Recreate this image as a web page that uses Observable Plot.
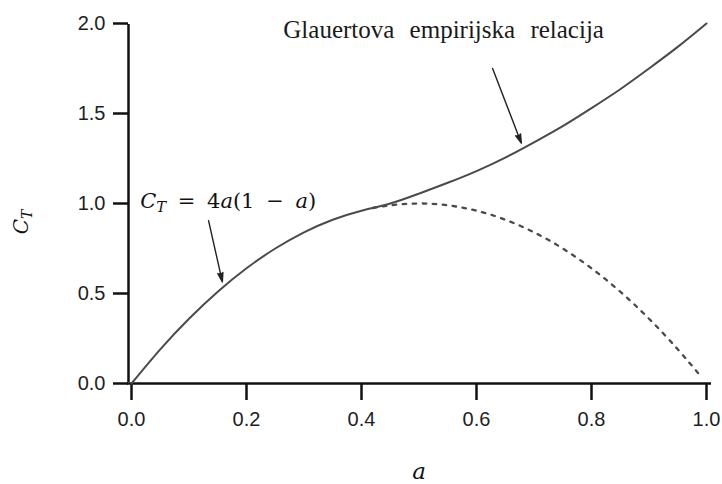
<!DOCTYPE html>
<html>
<head>
<meta charset="utf-8">
<script src="https://cdn.jsdelivr.net/npm/d3@7"></script>
<script src="https://cdn.jsdelivr.net/npm/@observablehq/plot@0.6"></script>
<style>
  html, body { margin: 0; padding: 0; background: #fff; }
  #chart svg { display: block; }
</style>
</head>
<body>
<div id="chart"></div>
<script>
// ---- data ----
// solid curve: momentum theory up to a≈0.4, then Glauert's empirical relation
const aSolid  = [0, 0.05, 0.10, 0.15, 0.20, 0.25, 0.30, 0.35, 0.40, 0.45, 0.50, 0.55, 0.60, 0.65, 0.70, 0.75, 0.80, 0.85, 0.90, 0.95, 1.00];
const ctSolid = [0, 0.19, 0.36, 0.51, 0.64, 0.75, 0.84, 0.91, 0.96, 1.00, 1.055, 1.115, 1.18, 1.255, 1.34, 1.43, 1.53, 1.635, 1.75, 1.87, 2.00];
// dotted curve: CT = 4a(1-a) continued beyond a≈0.4
const aDotted  = [0.42, 0.45, 0.50, 0.55, 0.60, 0.65, 0.70, 0.75, 0.80, 0.85, 0.90, 0.95, 0.99];
const ctDotted = [0.975, 0.99, 1.00, 0.99, 0.96, 0.91, 0.84, 0.75, 0.64, 0.51, 0.36, 0.19, 0.04];

const xTicks = [0, 0.2, 0.4, 0.6, 0.8, 1.0];
const yTicks = [0, 0.5, 1.0, 1.5, 2.0];

const xLabel = "a";
const glauertLabel = "Glauertova empirijska relacija";
const formulaParts = [["C", "i"], ["T", "sub"], [" = 4", ""], ["a", "i"], ["(1 − ", ""], ["a", "i"], [")", ""]];

// annotation anchors (data units)
const glauertPos = [0.264, 1.922];
const formulaPos = [0.016, 0.972];
const yLabelPos  = [-0.179, 0.895];
const xLabelPos  = [0.50, -0.53];
const arrows = [
  {x1: 0.628, y1: 1.75, x2: 0.678, y2: 1.335},
  {x1: 0.134, y1: 0.905, x2: 0.158, y2: 0.565}
];

const solid  = aSolid.map((a, i) => ({a, ct: ctSolid[i]}));
const dotted = aDotted.map((a, i) => ({a, ct: ctDotted[i]}));

const tickFont = "'Liberation Sans', Arial, sans-serif";

const chart = Plot.plot({
  width: 722,
  height: 484,
  marginLeft: 131,
  marginRight: 16,
  marginTop: 23,
  marginBottom: 101,
  x: {domain: [0, 1]},
  y: {domain: [0, 2]},
  style: {fontFamily: tickFont, fontSize: "20px", color: "#1e1e24", background: "#fff"},
  marks: [
    Plot.axisX({ticks: xTicks, tickFormat: d3.format(".1f"), tickSize: 17, tickPadding: 11, strokeWidth: 2.5, stroke: "#111",
      fill: "#1e1e24", fontSize: 20, fontFamily: tickFont, label: null}),
    Plot.axisY({ticks: yTicks, tickFormat: d3.format(".1f"), tickSize: 15, tickPadding: 8, strokeWidth: 2.5, stroke: "#111",
      fill: "#1e1e24", fontSize: 20, fontFamily: tickFont, dx: -3, label: null}),
    Plot.ruleY([0], {x1: 0, x2: 1, insetLeft: -4.2, insetRight: -5, stroke: "#111", strokeWidth: 2.5}),
    Plot.ruleX([0], {y1: 0, y2: 2, dx: -3, insetTop: -1, insetBottom: -1, stroke: "#111", strokeWidth: 2.5}),
    Plot.line(dotted, {x: "a", y: "ct", curve: "natural", stroke: "#4a4a4a", strokeWidth: 2.3, strokeDasharray: "3.5,6.5"}),
    Plot.line(solid, {x: "a", y: "ct", curve: "natural", stroke: "#4a4a4a", strokeWidth: 2}),
    Plot.arrow(arrows, {x1: "x1", y1: "y1", x2: "x2", y2: "y2", stroke: "#222", strokeWidth: 1.4, headLength: 10, headAngle: 32}),
    Plot.text([glauertLabel], {x: glauertPos[0], y: glauertPos[1], text: d => d, textAnchor: "start", lineAnchor: "bottom",
      fontFamily: "'Liberation Serif', 'Times New Roman', serif", fontSize: 25, fill: "#1a1a1a"}),
    Plot.text([xLabel], {x: xLabelPos[0], y: xLabelPos[1], text: d => d, textAnchor: "middle", lineAnchor: "bottom",
      fontFamily: "'DejaVu Serif', serif", fontStyle: "italic", fontSize: 23, fill: "#111"})
  ]
});

document.getElementById("chart").appendChild(chart);

const svg = d3.select(chart);

// thick tick marks, filled arrowheads, wider word spacing (as in the reference)
svg.selectAll("g[aria-label$='tick'] path, g[aria-label$='tick'] line").attr("stroke-width", 2.5);
svg.selectAll("g[aria-label='arrow'] path").attr("fill", "#222");
svg.selectAll("text").filter(function() { return this.textContent === glauertLabel; })
  .style("word-spacing", "9px");

// math-style labels with subscripts
const sx = chart.scale("x"), sy = chart.scale("y");

function mathText(sel, parts, size, spacing) {
  sel.attr("font-family", "'DejaVu Serif', serif").attr("font-size", size).attr("fill", "#111")
    .style("white-space", "pre").style("word-spacing", spacing + "px");
  let sub = false;
  for (const [txt, kind] of parts) {
    const t = sel.append("tspan").text(txt);
    if (kind === "i" || kind === "sub") t.attr("font-style", "italic");
    if (kind === "sub") { t.attr("font-size", size * 0.7).attr("dy", size * 0.2); sub = true; }
    else if (sub) { t.attr("dy", -size * 0.2); sub = false; }
  }
}

mathText(svg.append("text")
  .attr("text-anchor", "start")
  .attr("x", sx.apply(formulaPos[0]))
  .attr("y", sy.apply(formulaPos[1])), formulaParts, 21, 5);

mathText(svg.append("text")
  .attr("text-anchor", "middle")
  .attr("transform", `translate(${sx.apply(yLabelPos[0])},${sy.apply(yLabelPos[1])}) rotate(-90)`),
  formulaParts.slice(0, 2), 20, 0);
</script>
</body>
</html>
